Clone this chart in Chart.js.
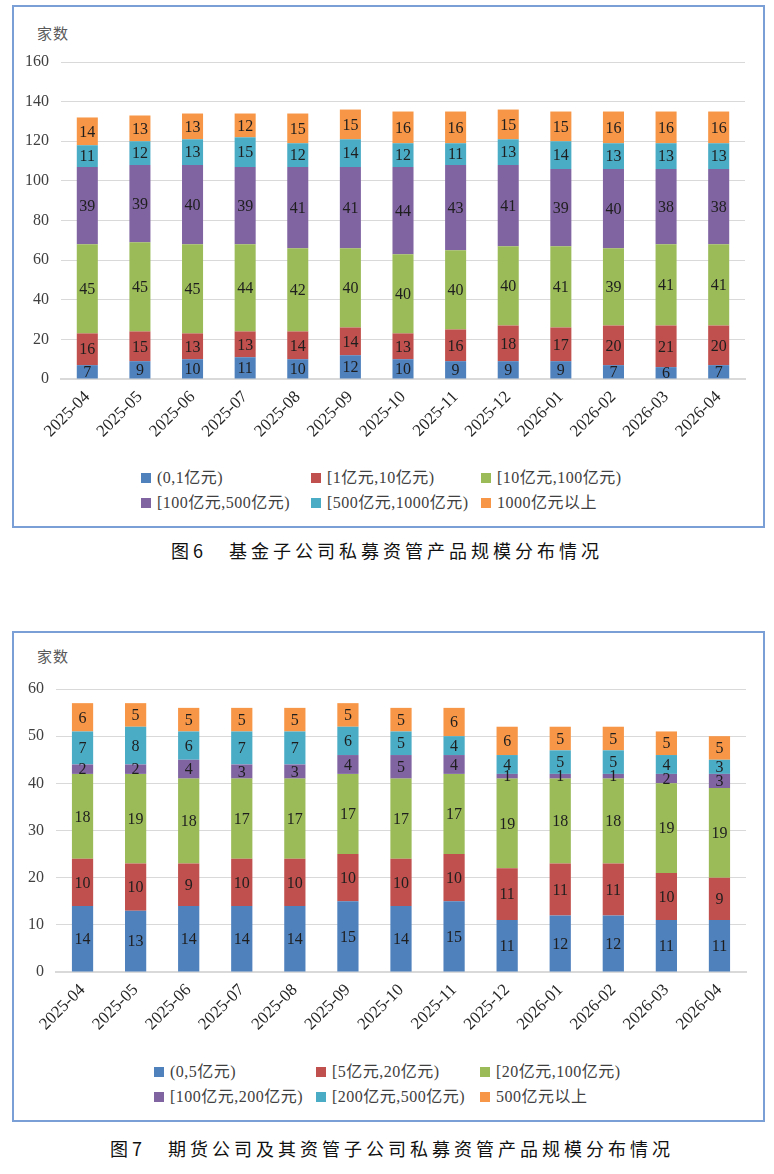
<!DOCTYPE html>
<html>
<head>
<meta charset="utf-8">
<script src="https://cdn.jsdelivr.net/npm/chart.js@4"></script>
<style>
  html, body { margin: 0; padding: 0; background: #fff; }
  body { width: 774px; height: 1174px; position: relative; overflow: hidden;
         font-family: "Liberation Serif", "Noto Sans CJK SC", serif; }
  .box { position: absolute; left: 12px; width: 753px; box-sizing: border-box;
         border: 2px solid #7a9fd6; }
  canvas { position: absolute; }
  .ytitle { position: absolute; font-size: 15px; color: #595959; letter-spacing: 1px; }
  .legend-item { position: absolute; font-size: 16px; color: #404040; white-space: nowrap;
                 line-height: 20px; letter-spacing: 0.5px; }
  .legend-item i { position: absolute; left: 0; top: 5px; width: 10px; height: 10px; }
  .legend-item span { position: absolute; left: 16px; top: 0; }
  .caption { position: absolute; left: 0; width: 774px; text-align: center;
             font-family: "Noto Sans CJK SC", sans-serif; font-size: 18px;
             letter-spacing: 4px; color: #111; line-height: 24px; }
</style>
</head>
<body>

<div class="box" style="top:5px;height:523px;"></div>
<div class="ytitle" style="left:37px;top:22px;">家数</div>
<canvas id="fund-chart" width="740" height="400" style="left:14px;top:50px;"></canvas>
<div id="fund-legend"></div>
<div class="caption" style="top:538px;">图6　基金子公司私募资管产品规模分布情况</div>

<div class="box" style="top:631px;height:491px;"></div>
<div class="ytitle" style="left:37px;top:645px;">家数</div>
<canvas id="futures-chart" width="740" height="380" style="left:14px;top:670px;"></canvas>
<div id="futures-legend"></div>
<div class="caption" style="top:1136px;left:5px;">图7　期货公司及其资管子公司私募资管产品规模分布情况</div>

<script>
// Months shared by both charts
const months = ['2025-04', '2025-05', '2025-06', '2025-07', '2025-08', '2025-09', '2025-10',
  '2025-11', '2025-12', '2026-01', '2026-02', '2026-03', '2026-04'];

// Tier colors (Office palette)
const tierColors = ['#4f81bd', '#c0504d', '#9bbb59', '#8064a2', '#4bacc6', '#f79646'];

// Figure 6: fund subsidiaries
const fundTiers = ['(0,1亿元)', '[1亿元,10亿元)', '[10亿元,100亿元)',
  '[100亿元,500亿元)', '[500亿元,1000亿元)', '1000亿元以上'];
const fundTier1 = [7, 9, 10, 11, 10, 12, 10, 9, 9, 9, 7, 6, 7];
const fundTier2 = [16, 15, 13, 13, 14, 14, 13, 16, 18, 17, 20, 21, 20];
const fundTier3 = [45, 45, 45, 44, 42, 40, 40, 40, 40, 41, 39, 41, 41];
const fundTier4 = [39, 39, 40, 39, 41, 41, 44, 43, 41, 39, 40, 38, 38];
const fundTier5 = [11, 12, 13, 15, 12, 14, 12, 11, 13, 14, 13, 13, 13];
const fundTier6 = [14, 13, 13, 12, 15, 15, 16, 16, 15, 15, 16, 16, 16];
const fundTicks = [0, 20, 40, 60, 80, 100, 120, 140, 160];

// Figure 7: futures companies and subsidiaries
const futuresTiers = ['(0,5亿元)', '[5亿元,20亿元)', '[20亿元,100亿元)',
  '[100亿元,200亿元)', '[200亿元,500亿元)', '500亿元以上'];
const futuresTier1 = [14, 13, 14, 14, 14, 15, 14, 15, 11, 12, 12, 11, 11];
const futuresTier2 = [10, 10, 9, 10, 10, 10, 10, 10, 11, 11, 11, 10, 9];
const futuresTier3 = [18, 19, 18, 17, 17, 17, 17, 17, 19, 18, 18, 19, 19];
const futuresTier4 = [2, 2, 4, 3, 3, 4, 5, 4, 1, 1, 1, 2, 3];
const futuresTier5 = [7, 8, 6, 7, 7, 6, 5, 4, 4, 5, 5, 4, 3];
const futuresTier6 = [6, 5, 5, 5, 5, 5, 5, 6, 6, 5, 5, 5, 5];
const futuresTicks = [0, 10, 20, 30, 40, 50, 60];

const serif = '"Liberation Serif", "Noto Sans CJK SC", serif';

// Draw each segment's value in its middle
const segmentLabels = {
  id: 'segmentLabels',
  afterDatasetsDraw(chart) {
    const ctx = chart.ctx;
    ctx.save();
    ctx.font = '16px ' + serif;
    ctx.fillStyle = '#1e1e1e';
    ctx.textAlign = 'center';
    ctx.textBaseline = 'middle';
    chart.data.datasets.forEach((ds, i) => {
      chart.getDatasetMeta(i).data.forEach((bar, j) => {
        const p = bar.getProps(['x', 'y', 'base'], true);
        ctx.fillText(String(ds.data[j]), p.x, (p.y + p.base) / 2 + 1);
      });
    });
    ctx.restore();
  }
};

function buildLegend(chart, containerId, cols, rows) {
  const box = document.getElementById(containerId);
  chart.data.datasets.forEach((ds, i) => {
    const item = document.createElement('div');
    item.className = 'legend-item';
    item.style.left = cols[i % 3] + 'px';
    item.style.top = (rows[Math.floor(i / 3)] - 10) + 'px';
    item.innerHTML = `<i style="background:${ds.backgroundColor}"></i><span>${ds.label}</span>`;
    box.appendChild(item);
  });
}

function renderStacked(canvasId, tiers, series, ticks, geo) {
  const ctx = document.getElementById(canvasId);
  const step = ticks[1] - ticks[0];
  return new Chart(ctx, {
    type: 'bar',
    data: {
      labels: months,
      datasets: series.map((data, i) => ({
        label: tiers[i],
        data,
        backgroundColor: tierColors[i],
        borderWidth: 0,
        categoryPercentage: 1,
        barPercentage: 0.4
      }))
    },
    options: {
      responsive: false,
      animation: false,
      layout: { padding: { top: geo.top, right: geo.right, left: 0, bottom: 0 } },
      scales: {
        x: {
          stacked: true,
          grid: { display: false, drawTicks: false },
          border: { display: true, color: '#d9d9d9', width: 2 },
          ticks: {
            autoSkip: false,
            minRotation: 45,
            maxRotation: 45,
            padding: 8,
            color: '#262626',
            font: { family: serif, size: 17 }
          },
          afterFit: scale => { scale.height = geo.xHeight; }
        },
        y: {
          stacked: true,
          min: ticks[0],
          max: ticks[ticks.length - 1],
          grid: { color: '#d9d9d9', lineWidth: 1, drawTicks: false },
          border: { display: false },
          ticks: {
            stepSize: step,
            padding: 12,
            color: '#404040',
            font: { family: serif, size: 16 }
          },
          afterFit: scale => {
            scale.width = geo.yWidth;
            scale.paddingTop = 10;
            scale.paddingBottom = 0;
          }
        }
      },
      plugins: {
        legend: { display: false },
        tooltip: { enabled: false }
      }
    },
    plugins: [segmentLabels]
  });
}

const fundChart = renderStacked('fund-chart', fundTiers,
  [fundTier1, fundTier2, fundTier3, fundTier4, fundTier5, fundTier6], fundTicks,
  { top: 12, right: 9, yWidth: 47, xHeight: 71 });
buildLegend(fundChart, 'fund-legend', [141, 311, 481], [478, 503]);

const futuresChart = renderStacked('futures-chart', futuresTiers,
  [futuresTier1, futuresTier2, futuresTier3, futuresTier4, futuresTier5, futuresTier6], futuresTicks,
  { top: 19, right: 8, yWidth: 42, xHeight: 78 });
buildLegend(futuresChart, 'futures-legend', [154, 316, 480], [1072, 1097]);
</script>
</body>
</html>
